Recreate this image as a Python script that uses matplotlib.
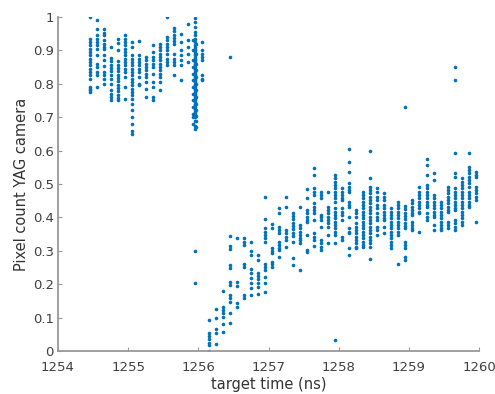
import matplotlib
matplotlib.use('Agg')
import matplotlib.pyplot as plt

# target time columns (ns) and the pixel counts
times = [1254.45, 1254.55, 1254.65, 1254.75, 1254.85, 1254.95, 1255.05, 1255.15,
         1255.25, 1255.35, 1255.45, 1255.55, 1255.65, 1255.75, 1255.85, 1255.95,
         1256.05, 1256.15, 1256.25, 1256.35, 1256.45, 1256.55, 1256.65, 1256.75,
         1256.85, 1256.95, 1257.05, 1257.15, 1257.25, 1257.35, 1257.45, 1257.55,
         1257.65, 1257.75, 1257.85, 1257.95, 1258.05, 1258.15, 1258.25, 1258.35,
         1258.45, 1258.55, 1258.65, 1258.75, 1258.85, 1258.95, 1259.05, 1259.15,
         1259.25, 1259.35, 1259.45, 1259.55, 1259.65, 1259.75, 1259.85, 1259.95]

counts = [
    [1.0, 0.935, 0.925, 0.915, 0.905, 0.895, 0.885, 0.875, 0.865, 0.855, 0.845, 0.835, 0.825, 0.815, 0.79, 0.785, 0.78, 0.775],
    [0.99, 0.965, 0.945, 0.935, 0.925, 0.915, 0.905, 0.885, 0.86, 0.85, 0.835, 0.825, 0.79],
    [0.963, 0.953, 0.945, 0.93, 0.92, 0.91, 0.905, 0.885, 0.87, 0.852, 0.835, 0.825, 0.815, 0.80],
    [0.91, 0.877, 0.867, 0.857, 0.847, 0.837, 0.827, 0.815, 0.80, 0.78, 0.77, 0.76, 0.75],
    [0.935, 0.923, 0.9, 0.867, 0.857, 0.847, 0.837, 0.827, 0.817, 0.807, 0.797, 0.787, 0.777, 0.767, 0.757, 0.75],
    [0.945, 0.935, 0.925, 0.915, 0.905, 0.895, 0.885, 0.875, 0.865, 0.855, 0.845, 0.835, 0.82, 0.79, 0.755],
    [0.925, 0.91, 0.885, 0.875, 0.865, 0.855, 0.845, 0.835, 0.825, 0.815, 0.805, 0.795, 0.785, 0.775, 0.765, 0.755, 0.74, 0.72, 0.70, 0.68, 0.66, 0.65],
    [0.928, 0.885, 0.875, 0.865, 0.855, 0.845, 0.835, 0.82, 0.80, 0.795],
    [0.88, 0.87, 0.86, 0.85, 0.84, 0.83, 0.82, 0.805, 0.785, 0.76],
    [0.915, 0.895, 0.88, 0.87, 0.86, 0.85, 0.83, 0.805, 0.79, 0.76, 0.75],
    [0.92, 0.91, 0.9, 0.89, 0.88, 0.87, 0.86, 0.85, 0.84, 0.83, 0.82, 0.805, 0.78],
    [1.0, 0.94, 0.93, 0.92, 0.91, 0.9, 0.89, 0.875, 0.865, 0.855],
    [0.967, 0.957, 0.947, 0.937, 0.927, 0.92, 0.89, 0.875, 0.865, 0.855, 0.825],
    [0.948, 0.925, 0.9, 0.885, 0.87, 0.855, 0.81],
    [0.98, 0.932, 0.91, 0.89, 0.865],
    [0.997, 0.985, 0.97, 0.955, 0.945, 0.935, 0.925, 0.915, 0.91, 0.905, 0.9, 0.895, 0.89, 0.885, 0.88,
     0.875, 0.87, 0.865, 0.86, 0.855, 0.85, 0.845, 0.84, 0.835, 0.83, 0.825, 0.82, 0.815, 0.81, 0.805,
     0.80, 0.795, 0.79, 0.785, 0.78, 0.775, 0.77, 0.765, 0.76, 0.755, 0.75, 0.745, 0.74, 0.735, 0.73,
     0.725, 0.72, 0.715, 0.71, 0.70, 0.69, 0.675, 0.665, 0.3, 0.205],
    [0.925, 0.9, 0.89, 0.88, 0.87, 0.825, 0.815, 0.81],
    [0.093, 0.055, 0.045, 0.035, 0.025, 0.018, 0.0],
    [0.126, 0.098, 0.065, 0.055, 0.021],
    [0.18, 0.133, 0.123, 0.113, 0.103, 0.08, 0.058],
    [0.88, 0.345, 0.314, 0.305, 0.257, 0.248, 0.208, 0.198, 0.168, 0.158, 0.148, 0.113, 0.083],
    [0.337, 0.208, 0.195, 0.143, 0.133],
    [0.337, 0.327, 0.317, 0.262, 0.252, 0.168, 0.158],
    [0.327, 0.30, 0.287, 0.247, 0.233, 0.22, 0.205, 0.188, 0.168],
    [0.287, 0.272, 0.235, 0.225, 0.215, 0.205, 0.193, 0.17],
    [0.462, 0.394, 0.367, 0.357, 0.347, 0.337, 0.327, 0.262, 0.252, 0.242, 0.222, 0.203, 0.178],
    [0.38, 0.367, 0.307, 0.3, 0.294, 0.267, 0.26, 0.252],
    [0.429, 0.414, 0.37, 0.362, 0.354, 0.327, 0.317, 0.307, 0.302, 0.282],
    [0.46, 0.43, 0.362, 0.352, 0.342, 0.332, 0.312],
    [0.414, 0.404, 0.394, 0.384, 0.374, 0.364, 0.354, 0.344, 0.327, 0.28, 0.257],
    [0.432, 0.377, 0.367, 0.357, 0.347, 0.337, 0.332, 0.322, 0.242],
    [0.484, 0.457, 0.422, 0.412, 0.402, 0.392, 0.387, 0.347, 0.302, 0.297],
    [0.547, 0.527, 0.487, 0.477, 0.467, 0.442, 0.432, 0.422, 0.412, 0.392, 0.352, 0.342, 0.332, 0.315],
    [0.477, 0.467, 0.457, 0.407, 0.4, 0.392, 0.37, 0.332, 0.322, 0.312, 0.302],
    [0.477, 0.432, 0.422, 0.412, 0.402, 0.392, 0.382, 0.37, 0.347, 0.322],
    [0.527, 0.517, 0.507, 0.497, 0.487, 0.477, 0.467, 0.457, 0.447, 0.427, 0.417, 0.407, 0.397, 0.387,
     0.377, 0.367, 0.357, 0.347, 0.322, 0.033],
    [0.487, 0.477, 0.467, 0.457, 0.452, 0.427, 0.417, 0.407, 0.392, 0.342, 0.332],
    [0.605, 0.567, 0.537, 0.502, 0.492, 0.482, 0.477, 0.447, 0.437, 0.432, 0.402, 0.367, 0.357, 0.352, 0.307, 0.287],
    [0.422, 0.412, 0.402, 0.382, 0.372, 0.362, 0.352, 0.342, 0.332, 0.322, 0.312, 0.307],
    [0.477, 0.467, 0.457, 0.447, 0.437, 0.427, 0.417, 0.407, 0.397, 0.387, 0.377, 0.367, 0.357, 0.347,
     0.337, 0.327, 0.317, 0.312],
    [0.6, 0.517, 0.492, 0.482, 0.472, 0.462, 0.452, 0.442, 0.432, 0.422, 0.412, 0.402, 0.392, 0.382,
     0.372, 0.362, 0.352, 0.342, 0.332, 0.322, 0.312, 0.277],
    [0.487, 0.477, 0.462, 0.452, 0.437, 0.427, 0.412, 0.402, 0.392, 0.372, 0.362, 0.347],
    [0.472, 0.462, 0.452, 0.437, 0.427, 0.417, 0.407, 0.397, 0.392, 0.372, 0.352],
    [0.427, 0.417, 0.407, 0.397, 0.387, 0.377, 0.367, 0.357, 0.347, 0.337, 0.327, 0.317, 0.307],
    [0.447, 0.437, 0.427, 0.417, 0.407, 0.397, 0.387, 0.377, 0.367, 0.357, 0.347, 0.262],
    [0.73, 0.434, 0.424, 0.414, 0.404, 0.394, 0.384, 0.374, 0.367, 0.327, 0.317, 0.307, 0.282, 0.272],
    [0.452, 0.442, 0.432, 0.422, 0.412, 0.407, 0.387, 0.377, 0.367, 0.362],
    [0.492, 0.477, 0.467, 0.457, 0.447, 0.437, 0.427, 0.417, 0.412, 0.357],
    [0.574, 0.557, 0.527, 0.497, 0.487, 0.477, 0.467, 0.457, 0.447, 0.437, 0.432, 0.412, 0.402, 0.392],
    [0.532, 0.512, 0.467, 0.457, 0.447, 0.437, 0.427, 0.417, 0.407, 0.402, 0.377, 0.362],
    [0.447, 0.437, 0.427, 0.417, 0.407, 0.397, 0.387, 0.377, 0.367, 0.362],
    [0.492, 0.482, 0.472, 0.462, 0.452, 0.442, 0.432, 0.422, 0.417, 0.387, 0.377, 0.367],
    [0.85, 0.81, 0.592, 0.532, 0.522, 0.487, 0.477, 0.467, 0.457, 0.447, 0.437, 0.427, 0.422, 0.392,
     0.382, 0.372, 0.362],
    [0.517, 0.507, 0.497, 0.487, 0.477, 0.467, 0.457, 0.447, 0.437, 0.427, 0.417, 0.407, 0.397, 0.387, 0.377],
    [0.592, 0.552, 0.542, 0.532, 0.522, 0.512, 0.502, 0.492, 0.477, 0.467, 0.457, 0.447, 0.437, 0.432],
    [0.537, 0.527, 0.522, 0.492, 0.482, 0.472, 0.462, 0.452, 0.387],
]

# the crowded column just before 1256 ns is smeared a little sideways
dense_time = [1255.93, 1255.97]
dense_counts = [
    [0.93, 0.9, 0.87, 0.85, 0.83, 0.81, 0.79, 0.77, 0.75, 0.73, 0.71, 0.70, 0.68],
    [0.92, 0.89, 0.86, 0.84, 0.82, 0.80, 0.78, 0.76, 0.74, 0.72, 0.705, 0.69, 0.67],
]

xs, ys = [], []
for t, col in zip(times + dense_time, counts + dense_counts):
    for v in col:
        xs.append(t)
        ys.append(v)

fig = plt.figure(figsize=(4.95, 3.94), dpi=100)
ax = fig.add_axes([0.117, 0.109, 0.851, 0.848])
ax.plot(xs, ys, 'o', color='#0072BD', markersize=2.6, markeredgewidth=0)

ax.set_xlim(1254, 1260)
ax.set_ylim(0, 1)
ax.set_xticks([1254, 1255, 1256, 1257, 1258, 1259, 1260])
ax.set_yticks([0, 0.1, 0.2, 0.3, 0.4, 0.5, 0.6, 0.7, 0.8, 0.9, 1])
ax.set_yticklabels(['0', '0.1', '0.2', '0.3', '0.4', '0.5', '0.6', '0.7', '0.8', '0.9', '1'])
ax.set_xlabel('target time (ns)', fontsize=10.5, color='#333333', labelpad=2)
ax.set_ylabel('Pixel count YAG camera', fontsize=10.5, color='#333333', labelpad=3)

for side in ['top', 'right']:
    ax.spines[side].set_visible(False)
for side in ['left', 'bottom']:
    ax.spines[side].set_color('#999999')
    ax.spines[side].set_linewidth(1.3)
ax.tick_params(direction='in', length=3, width=0.8, colors='#999999',
               labelcolor='#404040', labelsize=9.5, pad=3)
ax.tick_params(axis='x', pad=7)

fig.savefig('out.png', dpi=100)
